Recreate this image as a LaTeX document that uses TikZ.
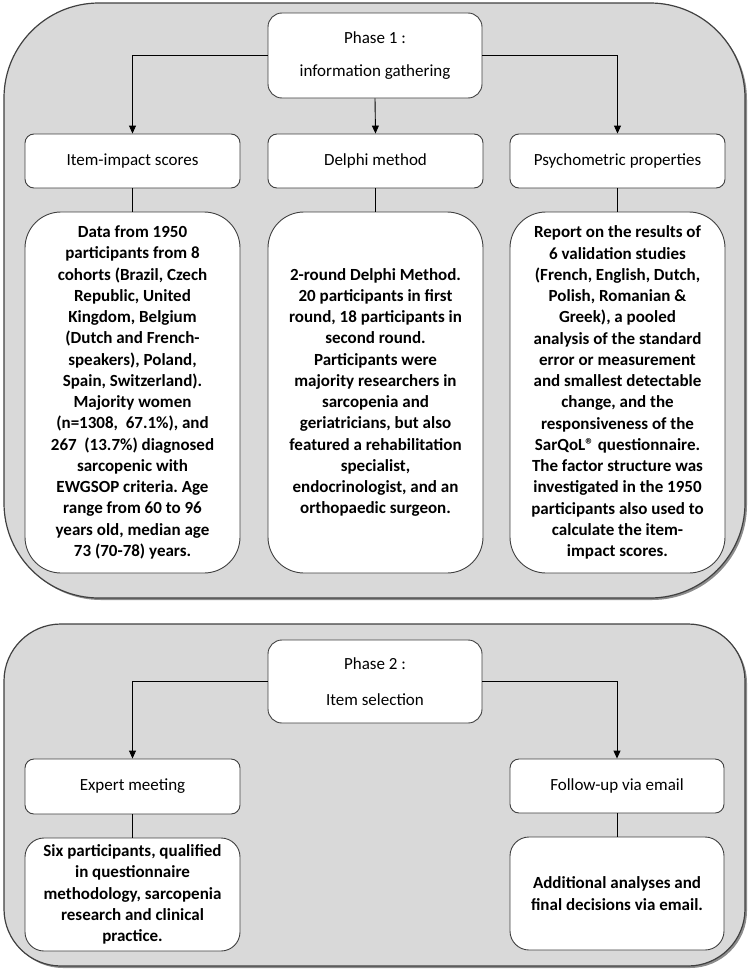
\documentclass[tikz,border=0pt]{standalone}
\usepackage{fontspec}
\setmainfont{Carlito}
\usetikzlibrary{arrows.meta}
\definecolor{panelgray}{RGB}{217,217,217}
\definecolor{edgegray}{RGB}{64,64,64}
\frenchspacing

\begin{document}
\begin{tikzpicture}[x=1pt,y=-1pt,
    txt/.style={font=\fontsize{17}{21.25}\selectfont},
    panel/.style={draw=edgegray,line width=1.2pt,fill=panelgray},
    shade/.style={fill=black!45},
    box/.style={draw=edgegray,line width=0.9pt,fill=white,inner sep=0pt,align=center,txt},
    head/.style={box,minimum width=214pt,rounded corners=14pt},
    sub/.style={box,minimum width=215pt,minimum height=54pt,rounded corners=9pt},
    info/.style={box,font=\fontsize{17}{21.25}\selectfont\bfseries,minimum width=215pt}]
      \useasboundingbox (0,0) rectangle (749,969);
      % the two phases
      \fill[shade,rounded corners=95pt] (6,5) rectangle (747,600);
      \draw[panel,rounded corners=95pt] (4,3) rectangle (745,598);
      \fill[shade,rounded corners=57pt] (6,626) rectangle (747,968);
      \draw[panel,rounded corners=57pt] (4,624) rectangle (745,966);
      % phase 1
      \draw
        (375,55.5) node[head,minimum height=85pt] (phaseone){Phase 1 :\\[11pt]information gathering}
        (132.5,161) node[sub] (impact){Item-impact scores}
        (375.5,161) node[sub] (delphi){Delphi method}
        (617.5,161) node[sub] (psycho){Psychometric properties}
        (132.5,392.5) node[info,minimum height=361pt,rounded corners=36pt] (impactinfo){Data from 1950\\participants from 8\\cohorts (Brazil, Czech\\Republic, United\\Kingdom, Belgium\\(Dutch and French-\\speakers), Poland,\\Spain, Switzerland).\\Majority women\\(n=1308,\ \ 67.1\%), and\\267\ \ (13.7\%) diagnosed\\sarcopenic with\\EWGSOP criteria. Age\\range from 60 to 96\\years old, median age\\73 (70-78) years.}
        (375.5,392.5) node[info,minimum height=361pt,rounded corners=36pt] (delphiinfo){2-round Delphi Method.\\20 participants in first\\round, 18 participants in\\second round.\\Participants were\\majority researchers in\\sarcopenia and\\geriatricians, but also\\featured a rehabilitation\\specialist,\\endocrinologist, and an\\orthopaedic surgeon.}
        (617.5,392.5) node[info,minimum height=361pt,rounded corners=36pt] (psychoinfo){Report on the results of\\6 validation studies\\(French, English, Dutch,\\Polish, Romanian \&\\Greek), a pooled\\analysis of the standard\\error or measurement\\and smallest detectable\\change, and the\\responsiveness of the\\SarQoL® questionnaire.\\The factor structure was\\investigated in the 1950\\participants also used to\\calculate the item-\\impact scores.};
      % phase 2
      \draw
        (375,681.5) node[head,minimum height=83pt] (phasetwo){Phase 2 :\\[15pt]Item selection}
        (132.5,786.5) node[sub,minimum height=55pt] (meeting){Expert meeting}
        (617,786) node[sub,minimum width=214pt] (followup){Follow-up via email}
        (132.5,894.5) node[info,minimum height=113pt,rounded corners=19pt] (meetinginfo){Six participants, qualified\\in questionnaire\\methodology, sarcopenia\\research and clinical\\practice.}
        (617,893.5) node[info,minimum width=214pt,minimum height=113pt,rounded corners=19pt] (followupinfo){Additional analyses and\\final decisions via email.};
      \begin{scope}[-{Triangle[length=8pt,width=7pt]},line width=0.9pt]
        \draw (phaseone.west) -| (impact.north);
        \draw (phaseone.south) -- (delphi.north);
        \draw (phaseone.east) -| (psycho.north);
        \draw (phasetwo.west) -| (meeting.north);
        \draw (phasetwo.east) -| (followup.north);
      \end{scope}
      \begin{scope}[-,line width=0.9pt]
        \draw (impact) to (impactinfo);
        \draw (delphi) to (delphiinfo);
        \draw (psycho) to (psychoinfo);
        \draw (meeting) to (meetinginfo);
        \draw (followup) to (followupinfo);
      \end{scope}
    \end{tikzpicture}
\end{document}
